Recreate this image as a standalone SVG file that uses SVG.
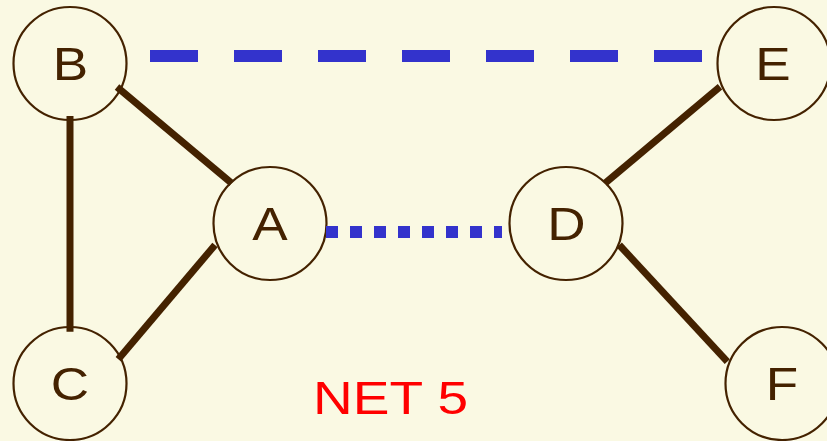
<svg xmlns="http://www.w3.org/2000/svg" width="827" height="441" viewBox="0 0 827 441">
<style>
.node circle{fill:#FAF9E3;stroke:#442200;stroke-width:2.2}
.node text{font-family:"Liberation Sans",Arial,sans-serif;font-size:47px;fill:#442200;text-anchor:middle}
.solid{stroke:#442200;stroke-width:7;stroke-linecap:butt;fill:none}
.dash{stroke:#3333CC;stroke-width:12;stroke-dasharray:48 36;fill:none}
.dot{stroke:#3333CC;stroke-width:12;stroke-dasharray:12 12;fill:none}
.title{font-family:"Liberation Sans",Arial,sans-serif;font-size:47px;fill:#FF0000}
</style>
<rect width="827" height="441" fill="#FAF9E3"/>
<g id="node-B" class="node"><circle cx="70" cy="63.5" r="56.5"/><text transform="translate(70.5,80) scale(1.13,1)">B</text></g>
<g id="node-E" class="node"><circle cx="774" cy="63.5" r="56.5"/><text transform="translate(773,80) scale(1.13,1)">E</text></g>
<g id="node-A" class="node"><circle cx="270" cy="223.5" r="56.5"/><text transform="translate(270,240) scale(1.13,1)">A</text></g>
<g id="node-D" class="node"><circle cx="566" cy="223.5" r="56.5"/><text transform="translate(566.5,240) scale(1.13,1)">D</text></g>
<g id="node-C" class="node"><circle cx="70" cy="383.5" r="56.5"/><text transform="translate(70,400) scale(1.13,1)">C</text></g>
<g id="node-F" class="node"><circle cx="782" cy="383.5" r="56.5"/><text transform="translate(782,400) scale(1.13,1)">F</text></g>
<g id="connectors">
<line class="dash" x1="150" y1="56" x2="702" y2="56"/>
<line class="dot" x1="326" y1="232" x2="502" y2="232"/>
<line class="solid" x1="70" y1="116" x2="70" y2="331.7"/>
<line class="solid" x1="117" y1="87" x2="231.7" y2="183.3"/>
<line class="solid" x1="215" y1="245" x2="118.3" y2="359.3"/>
<line class="solid" x1="720" y1="86.7" x2="605" y2="183.3"/>
<line class="solid" x1="619.3" y1="245" x2="727.3" y2="361.7"/>
</g>
<text class="title" x="313" y="414.3" textLength="155" lengthAdjust="spacingAndGlyphs">NET 5</text>
</svg>
